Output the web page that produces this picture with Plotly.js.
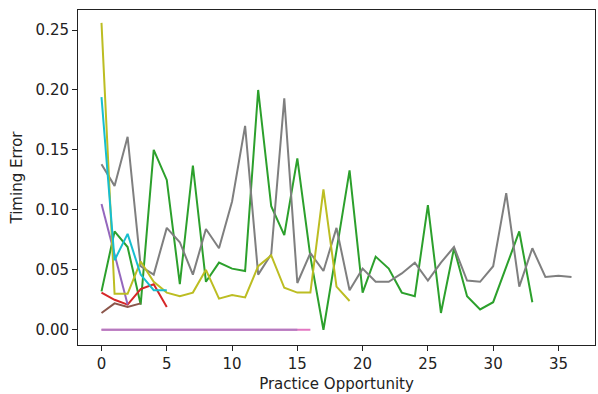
<!DOCTYPE html>
<html>
<head>
<meta charset="utf-8">
<script src="https://cdn.plot.ly/plotly-3.0.1.min.js"></script>
<style>html,body{margin:0;padding:0;background:#fff;}#chart{width:598px;height:394px;}</style>
</head>
<body>
<div id="chart"></div>
<script>
// Timing error per practice opportunity, one array per learner (index = practice opportunity)
const greenSeries = [0.032, 0.082, 0.069, 0.021, 0.150, 0.125, 0.038, 0.137, 0.040, 0.056, 0.051, 0.049, 0.200, 0.103, 0.079, 0.143, 0.061, 0.000, 0.066, 0.133, 0.031, 0.061, 0.051, 0.031, 0.028, 0.104, 0.014, 0.068, 0.028, 0.017, 0.023, 0.052, 0.082, 0.023];
const redSeries = [0.031, 0.025, 0.021, 0.034, 0.038, 0.019];
const purpleSeries = [0.105, 0.063, 0.021];
const brownSeries = [0.014, 0.022, 0.019, 0.022];
const pinkSeries = [0, 0, 0, 0, 0, 0, 0, 0, 0, 0, 0, 0, 0, 0, 0, 0, 0];
const mauveSeries = [0, 0, 0, 0, 0, 0, 0, 0, 0, 0, 0, 0, 0, 0, 0, 0];
const graySeries = [0.138, 0.120, 0.161, 0.053, 0.046, 0.085, 0.073, 0.046, 0.084, 0.068, 0.107, 0.170, 0.046, 0.063, 0.193, 0.039, 0.064, 0.049, 0.085, 0.033, 0.051, 0.040, 0.040, 0.047, 0.056, 0.041, 0.056, 0.069, 0.041, 0.040, 0.053, 0.114, 0.036, 0.068, 0.044, 0.045, 0.044];
const oliveSeries = [0.256, 0.030, 0.030, 0.057, 0.040, 0.031, 0.028, 0.031, 0.050, 0.026, 0.029, 0.027, 0.053, 0.062, 0.035, 0.031, 0.031, 0.117, 0.036, 0.024];
const cyanSeries = [0.194, 0.058, 0.080, 0.046, 0.033, 0.033];

const xTicks = [0, 5, 10, 15, 20, 25, 30, 35];
const yTicks = [0.00, 0.05, 0.10, 0.15, 0.20, 0.25];

const seriesList = [
  [pinkSeries, '#e377c2'],
  [mauveSeries, '#b27bbf'],
  [greenSeries, '#2ca02c'],
  [redSeries, '#d62728'],
  [purpleSeries, '#9467bd'],
  [brownSeries, '#8c564b'],
  [graySeries, '#7f7f7f'],
  [oliveSeries, '#bcbd22'],
  [cyanSeries, '#17becf']
];

const traces = seriesList.map(([vals, color]) => ({
  type: 'scatter',
  mode: 'lines',
  x: vals.map((_, i) => i),
  y: vals,
  line: {color: color, width: 2},
  hoverinfo: 'skip',
  showlegend: false
}));

const font = {family: 'DejaVu Sans, sans-serif', size: 15, color: '#222'};

const layout = {
  width: 598,
  height: 394,
  margin: {l: 78, r: 3, t: 10, b: 49},
  paper_bgcolor: '#fff',
  plot_bgcolor: '#fff',
  font: font,
  showlegend: false,
  xaxis: {
    range: [-1.8, 37.8],
    tickvals: xTicks,
    ticktext: xTicks.map(String),
    ticks: 'outside',
    ticklen: 5,
    tickwidth: 1,
    tickcolor: '#222',
    showgrid: false,
    zeroline: false,
    showline: true,
    linecolor: '#222',
    linewidth: 1,
    mirror: true,
    tickfont: font,
    title: {text: 'Practice Opportunity', font: font, standoff: 6}
  },
  yaxis: {
    range: [-0.0127, 0.2667],
    tickvals: yTicks,
    ticktext: yTicks.map(v => v.toFixed(2)),
    ticks: 'outside',
    ticklen: 5,
    tickwidth: 1,
    tickcolor: '#222',
    showgrid: false,
    zeroline: false,
    showline: true,
    linecolor: '#222',
    linewidth: 1,
    mirror: true,
    tickfont: font,
    title: {text: 'Timing Error', font: font, standoff: 9}
  }
};

Plotly.newPlot('chart', traces, layout, {staticPlot: true, displayModeBar: false});
</script>
</body>
</html>
